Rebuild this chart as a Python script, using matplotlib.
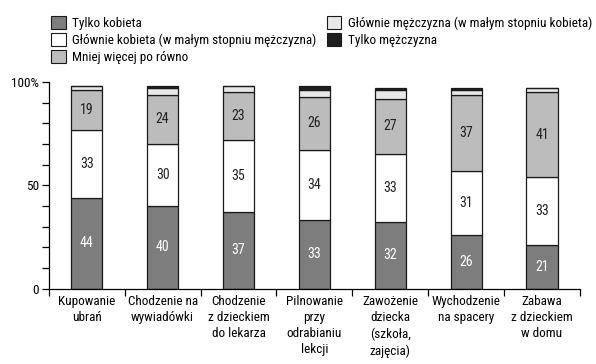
import matplotlib
matplotlib.use('Agg')
import matplotlib.pyplot as plt
from matplotlib import font_manager as fm
from matplotlib.patches import Patch
import numpy as np

categories = ['Kupowanie\nubrań', 'Chodzenie na\nwywiadówki', 'Chodzenie\nz dzieckiem\ndo lekarza',
              'Pilnowanie\nprzy\nodrabianiu\nlekcji', 'Zawożenie\ndziecka\n(szkoła,\nzajęcia)',
              'Wychodzenie\nna spacery', 'Zabawa\nz dzieckiem\nw domu']
tylko_kobieta = [44, 40, 37, 33, 32, 26, 21]
glownie_kobieta = [33, 30, 35, 34, 33, 31, 33]
po_rowno = [19, 24, 23, 26, 27, 37, 41]
glownie_mezczyzna = [2, 3, 3, 3, 4, 2, 2]
tylko_mezczyzna = [0, 1, 0, 2, 1, 1, 0]

# narrow font if one is installed
fsize = 8.5
for fam, stretch in [('Liberation Sans Narrow', 'condensed'), ('Roboto Condensed', 'condensed'),
                     ('DejaVu Sans', 'condensed'), ('Noto Sans', 'condensed'),
                     ('Open Sans', 'condensed'), ('Roboto', 'condensed')]:
    try:
        path = fm.findfont(fm.FontProperties(family=fam, stretch=stretch), fallback_to_default=False)
    except ValueError:
        continue
    if 'ondensed' in path or 'arrow' in path:
        plt.rcParams['font.family'] = [fam, 'DejaVu Sans']
        plt.rcParams['font.stretch'] = stretch
        fsize = 9
        break
else:
    plt.rcParams['font.family'] = ['Liberation Sans', 'DejaVu Sans']

series = [
    ('Tylko kobieta', tylko_kobieta, '#7d7d7d', 'white'),
    ('Głównie kobieta (w małym stopniu mężczyzna)', glownie_kobieta, '#ffffff', '#222222'),
    ('Mniej więcej po równo', po_rowno, '#bcbcbc', '#222222'),
    ('Głównie mężczyzna (w małym stopniu kobieta)', glownie_mezczyzna, '#e8e8e8', None),
    ('Tylko mężczyzna', tylko_mezczyzna, '#1e1e1e', None),
]

fig = plt.figure(figsize=(5.96, 3.64), dpi=100)
ax = fig.add_axes([0.082, 0.2074, 0.891, 0.567])

x = np.arange(len(categories))
bottom = np.zeros(len(categories))
for name, vals, color, txt in series:
    vals = np.array(vals, dtype=float)
    ax.bar(x, vals, 0.41, bottom=bottom, color=color, edgecolor='#1a1a1a', linewidth=0.9)
    if txt:
        for xi, b, v in zip(x, bottom, vals):
            ax.text(xi, b + v / 2, f'{int(v)}', ha='center', va='center',
                    fontsize=fsize + 1, color=txt)
    bottom += vals

ax.set_xlim(-0.5, 6.5)
ax.set_ylim(0, 100)
ax.spines['top'].set_visible(False)
ax.spines['right'].set_visible(False)
ax.spines['left'].set_linewidth(0.9)
ax.spines['bottom'].set_linewidth(0.9)

ax.set_yticks(np.arange(0, 101, 10))
ax.set_yticklabels(['0', '', '', '', '', '50', '', '', '', '', '100%'], fontsize=fsize + 0.5)
ax.tick_params(axis='y', length=5, width=0.9, pad=2)

ax.set_xticks(x)
ax.set_xticklabels(categories, fontsize=fsize + 0.5, linespacing=1.3)
ax.tick_params(axis='x', which='major', length=0, pad=5)
ax.set_xticks(np.arange(-0.5, 7, 1), minor=True)
ax.tick_params(axis='x', which='minor', length=5, width=0.9)

handles = [Patch(facecolor=c, edgecolor='#1a1a1a', linewidth=0.8) for _, _, c, _ in series]
labels = [s[0] for s in series]
leg_kw = dict(frameon=False, fontsize=fsize + 0.5, handlelength=1.1, handleheight=1.15,
              handletextpad=0.5, labelspacing=0.2, borderaxespad=0, borderpad=0)
fig.legend(handles[:3], labels[:3], loc='upper left', bbox_to_anchor=(0.086, 0.955), **leg_kw)
fig.legend(handles[3:], labels[3:], loc='upper left', bbox_to_anchor=(0.548, 0.955), **leg_kw)

fig.savefig('out.png', dpi=100)
